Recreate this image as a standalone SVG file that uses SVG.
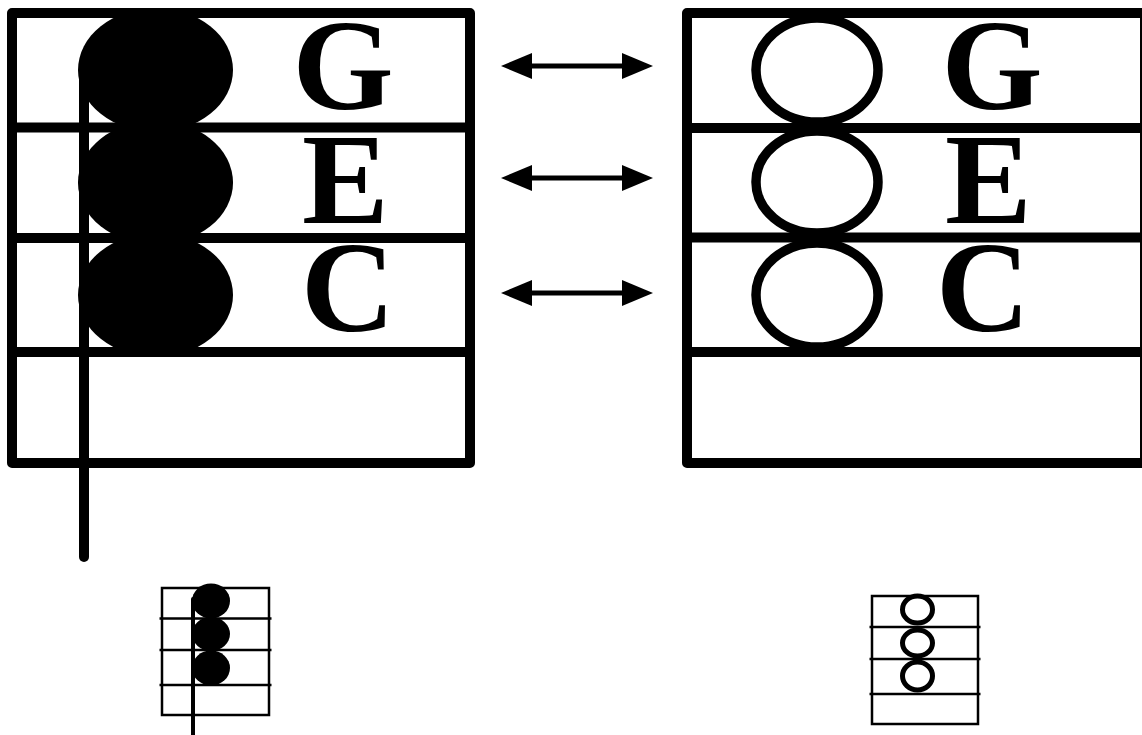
<svg xmlns="http://www.w3.org/2000/svg" width="1142" height="735" viewBox="0 0 1142 735">
<style>
.frame{fill:none;stroke:#000;stroke-width:10;stroke-linejoin:round}
.rule{stroke:#000;stroke-width:10}
.sframe{fill:none;stroke:#000;stroke-width:2.5}
.srule{stroke:#000;stroke-width:2.5}
.note{fill:#000}
.open{fill:none;stroke:#000;stroke-width:9.5}
.sopen{fill:none;stroke:#000;stroke-width:5}
.stem{stroke:#000;stroke-width:10;stroke-linecap:round}
.sstem{stroke:#000;stroke-width:4;stroke-linecap:round}
.lbl{font-family:"Liberation Serif","Times New Roman",serif;font-weight:bold;font-size:130px;fill:#000}
.arrow{stroke:#000;stroke-width:5;fill:none}
</style>
<defs>
<marker id="ah" markerUnits="userSpaceOnUse" markerWidth="31" markerHeight="26" refX="21" refY="13" orient="auto-start-reverse" viewBox="0 0 31 26">
<path d="M0,0 L31,13 L0,26 Z" fill="#000"/>
</marker>
</defs>
<rect width="1142" height="735" fill="#fff"/>
<g id="left-staff">
<rect class="frame" x="12" y="13" width="458" height="450"/>
<line class="rule" x1="7" y1="127.5" x2="475" y2="127.5"/>
<line class="rule" x1="7" y1="238" x2="475" y2="238"/>
<line class="rule" x1="7" y1="352" x2="475" y2="352"/>
<ellipse class="note" cx="155.5" cy="70" rx="77.5" ry="62"/>
<ellipse class="note" cx="155.5" cy="182.5" rx="77.5" ry="62"/>
<ellipse class="note" cx="155.5" cy="295" rx="77.5" ry="62"/>
<line class="stem" x1="84" y1="72" x2="84" y2="557"/>
<text class="lbl" x="292.5" y="109">G</text>
<text class="lbl" x="302" y="223">E</text>
<text class="lbl" x="301" y="331">C</text>
</g>
<g id="right-staff">
<rect class="frame" x="687" y="13" width="458" height="450"/>
<line class="rule" x1="682" y1="128" x2="1142" y2="128"/>
<line class="rule" x1="682" y1="237.5" x2="1142" y2="237.5"/>
<line class="rule" x1="682" y1="352" x2="1142" y2="352"/>
<ellipse class="open" cx="817" cy="70" rx="61" ry="52"/>
<ellipse class="open" cx="817" cy="182" rx="61" ry="51"/>
<ellipse class="open" cx="817" cy="295" rx="61" ry="52"/>
<text class="lbl" x="941.5" y="109">G</text>
<text class="lbl" x="945" y="223">E</text>
<text class="lbl" x="936" y="331">C</text>
</g>
<g id="small-left">
<rect class="sframe" x="162" y="588" width="107" height="127"/>
<line class="srule" x1="159.5" y1="618.5" x2="271.5" y2="618.5"/>
<line class="srule" x1="159.5" y1="650" x2="271.5" y2="650"/>
<line class="srule" x1="159.5" y1="685" x2="271.5" y2="685"/>
<ellipse class="note" cx="211" cy="601" rx="19" ry="17.5"/>
<ellipse class="note" cx="211" cy="634" rx="19" ry="17"/>
<ellipse class="note" cx="211" cy="668" rx="19" ry="17.5"/>
<line class="sstem" x1="193" y1="599" x2="193" y2="740"/>
</g>
<g id="small-right">
<rect class="sframe" x="872" y="596" width="106" height="128"/>
<line class="srule" x1="869.5" y1="627" x2="980.5" y2="627"/>
<line class="srule" x1="869.5" y1="659" x2="980.5" y2="659"/>
<line class="srule" x1="869.5" y1="694" x2="980.5" y2="694"/>
<ellipse class="sopen" cx="917.5" cy="609.5" rx="15" ry="13.5"/>
<ellipse class="sopen" cx="917.5" cy="643" rx="15" ry="13"/>
<ellipse class="sopen" cx="917.5" cy="676" rx="15" ry="14"/>
</g>
<g id="connectors">
<line class="arrow" x1="511" y1="66" x2="643" y2="66" marker-start="url(#ah)" marker-end="url(#ah)"/>
<line class="arrow" x1="511" y1="178" x2="643" y2="178" marker-start="url(#ah)" marker-end="url(#ah)"/>
<line class="arrow" x1="511" y1="293" x2="643" y2="293" marker-start="url(#ah)" marker-end="url(#ah)"/>
</g>
</svg>
